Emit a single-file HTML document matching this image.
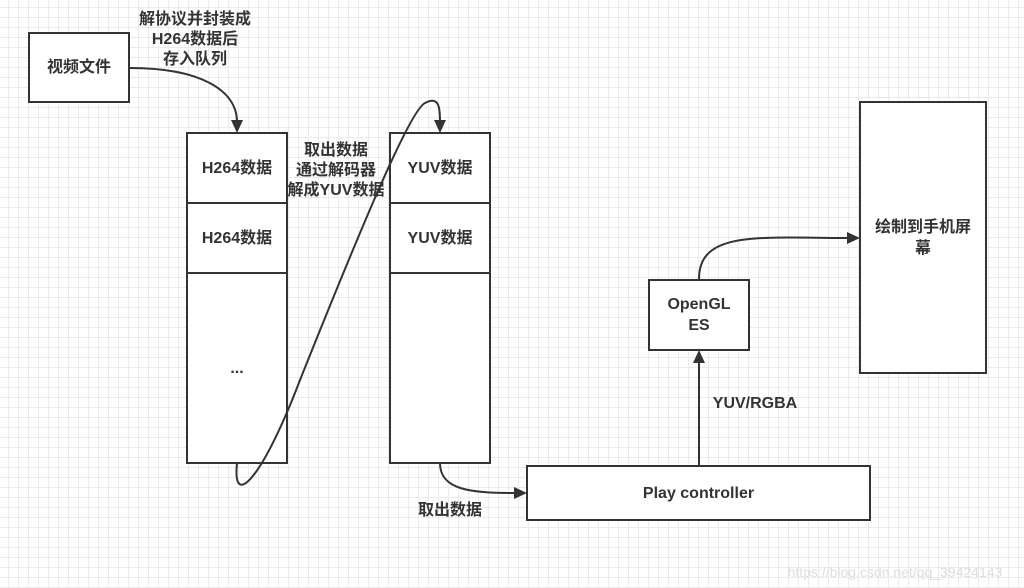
<!DOCTYPE html>
<html><head><meta charset="utf-8"><style>
body{margin:0;width:1024px;height:588px;overflow:hidden;background:#fff;
background-image:linear-gradient(#ebebeb 1px,transparent 1px),linear-gradient(90deg,#ebebeb 1px,transparent 1px);background-size:10px 10px;background-position:-2px -3px;
font-family:"Liberation Sans","Noto Sans CJK SC",sans-serif;font-weight:bold;color:#333;font-size:16px}
.b{position:absolute;box-sizing:border-box;border:2px solid #333;background:#fff;display:flex;align-items:center;justify-content:center;text-align:center;line-height:21px}
.t{position:absolute;text-align:center;line-height:20px}
</style></head><body>
<div class="b" style="left:28px;top:32px;width:102px;height:71px">视频文件</div>
<div class="b" style="left:186px;top:132px;width:102px;height:72px">H264数据</div>
<div class="b" style="left:186px;top:202px;width:102px;height:72px">H264数据</div>
<div class="b" style="left:186px;top:272px;width:102px;height:192px">...</div>
<div class="b" style="left:389px;top:132px;width:102px;height:72px">YUV数据</div>
<div class="b" style="left:389px;top:202px;width:102px;height:72px">YUV数据</div>
<div class="b" style="left:389px;top:272px;width:102px;height:192px"></div>
<div class="b" style="left:526px;top:465px;width:345px;height:56px">Play controller</div>
<div class="b" style="left:648px;top:279px;width:102px;height:72px">OpenGL<br>ES</div>
<div class="b" style="left:859px;top:101px;width:128px;height:273px">绘制到手机屏<br>幕</div>
<svg width="1024" height="588" style="position:absolute;left:0;top:0" fill="none" stroke="#333" stroke-width="2">
<path d="M130,68 C200,68 237,90 237,122"/>
<path d="M237,463 C232,510 262,480 300,380 C360,230 410,110 425,103 C440,95 440,110 440,122"/>
<path d="M440,463 C440,490 470,493 516,493"/>
<path d="M699,465 L699,362"/>
<path d="M699,279 C699,230 760,238 848,238"/>
<g fill="#333" stroke="none">
<path d="M231,120 L243,120 L237,133Z"/>
<path d="M434,120 L446,120 L440,133Z"/>
<path d="M514,487 L514,499 L527,493Z"/>
<path d="M693,363 L705,363 L699,350Z"/>
<path d="M847,232 L847,244 L860,238Z"/>
</g>
</svg>
<div class="t" style="left:125px;top:10px;width:140px;line-height:20px">解协议并封装成<br>H264数据后<br>存入队列</div>
<div class="t" style="left:280px;top:141px;width:112px;line-height:20px">取出数据<br>通过解码器<br>解成YUV数据</div>
<div class="t" style="left:405px;top:501px;width:90px">取出数据</div>
<div class="t" style="left:695px;top:394px;width:120px">YUV/RGBA</div>
<div class="t" style="left:770px;top:562px;width:250px;font-weight:normal;color:#ddd;font-size:14px">https://blog.csdn.net/qq_39424143</div>
</body></html>
